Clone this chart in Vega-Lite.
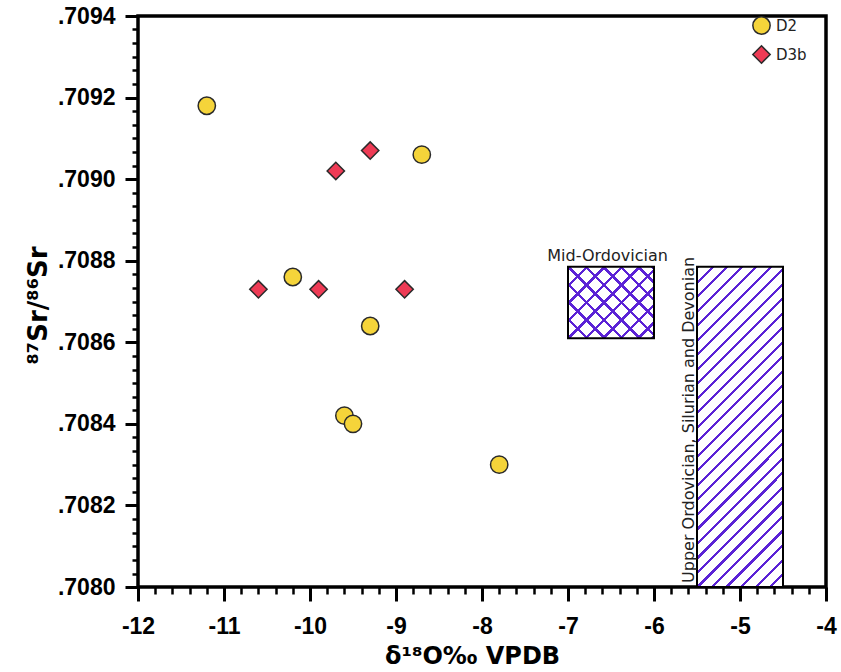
{
  "$schema": "https://vega.github.io/schema/vega-lite/v6.json",
  "width": 688,
  "height": 571,
  "autosize": "none",
  "padding": {"left": 138, "top": 16, "right": 15, "bottom": 85},
  "background": "white",
  "config": {
    "view": {"stroke": "black", "strokeWidth": 3.5},
    "axis": {
      "domain": false, "grid": false, "labelFlush": false, "labelOverlap": false,
      "tickColor": "black", "labelColor": "black", "titleColor": "black",
      "labelFont": "Liberation Sans", "labelFontWeight": "bold", "labelFontSize": 23,
      "titleFont": "DejaVu Sans", "titleFontWeight": "bold", "titleFontSize": 24
    }
  },
  "layer": [
    {
      "data": {"values": [{"period": "Upper Ordovician, Silurian and Devonian", "x_start": -5.5, "x_end": -4.5, "sr_low": 0.708, "sr_high": 0.708785}]},
      "mark": {
        "type": "rect", "stroke": "black", "strokeWidth": 2,
        "fill": {
          "gradient": "linear", "x1": 0, "y1": 0, "x2": 0.318, "y2": 1.1833,
          "stops": [
            {"offset": 0, "color": "#5b22d6"}, {"offset": 0.0075, "color": "#5b22d6"}, {"offset": 0.0075, "color": "#ffffff"}, {"offset": 0.0357, "color": "#ffffff"},
            {"offset": 0.0357, "color": "#5b22d6"}, {"offset": 0.0432, "color": "#5b22d6"}, {"offset": 0.0432, "color": "#ffffff"}, {"offset": 0.0714, "color": "#ffffff"},
            {"offset": 0.0714, "color": "#5b22d6"}, {"offset": 0.0789, "color": "#5b22d6"}, {"offset": 0.0789, "color": "#ffffff"}, {"offset": 0.1071, "color": "#ffffff"},
            {"offset": 0.1071, "color": "#5b22d6"}, {"offset": 0.1146, "color": "#5b22d6"}, {"offset": 0.1146, "color": "#ffffff"}, {"offset": 0.1429, "color": "#ffffff"},
            {"offset": 0.1429, "color": "#5b22d6"}, {"offset": 0.1504, "color": "#5b22d6"}, {"offset": 0.1504, "color": "#ffffff"}, {"offset": 0.1786, "color": "#ffffff"},
            {"offset": 0.1786, "color": "#5b22d6"}, {"offset": 0.1861, "color": "#5b22d6"}, {"offset": 0.1861, "color": "#ffffff"}, {"offset": 0.2143, "color": "#ffffff"},
            {"offset": 0.2143, "color": "#5b22d6"}, {"offset": 0.2218, "color": "#5b22d6"}, {"offset": 0.2218, "color": "#ffffff"}, {"offset": 0.25, "color": "#ffffff"},
            {"offset": 0.25, "color": "#5b22d6"}, {"offset": 0.2575, "color": "#5b22d6"}, {"offset": 0.2575, "color": "#ffffff"}, {"offset": 0.2857, "color": "#ffffff"},
            {"offset": 0.2857, "color": "#5b22d6"}, {"offset": 0.2932, "color": "#5b22d6"}, {"offset": 0.2932, "color": "#ffffff"}, {"offset": 0.3214, "color": "#ffffff"},
            {"offset": 0.3214, "color": "#5b22d6"}, {"offset": 0.3289, "color": "#5b22d6"}, {"offset": 0.3289, "color": "#ffffff"}, {"offset": 0.3571, "color": "#ffffff"},
            {"offset": 0.3571, "color": "#5b22d6"}, {"offset": 0.3646, "color": "#5b22d6"}, {"offset": 0.3646, "color": "#ffffff"}, {"offset": 0.3929, "color": "#ffffff"},
            {"offset": 0.3929, "color": "#5b22d6"}, {"offset": 0.4004, "color": "#5b22d6"}, {"offset": 0.4004, "color": "#ffffff"}, {"offset": 0.4286, "color": "#ffffff"},
            {"offset": 0.4286, "color": "#5b22d6"}, {"offset": 0.4361, "color": "#5b22d6"}, {"offset": 0.4361, "color": "#ffffff"}, {"offset": 0.4643, "color": "#ffffff"},
            {"offset": 0.4643, "color": "#5b22d6"}, {"offset": 0.4718, "color": "#5b22d6"}, {"offset": 0.4718, "color": "#ffffff"}, {"offset": 0.5, "color": "#ffffff"},
            {"offset": 0.5, "color": "#5b22d6"}, {"offset": 0.5075, "color": "#5b22d6"}, {"offset": 0.5075, "color": "#ffffff"}, {"offset": 0.5357, "color": "#ffffff"},
            {"offset": 0.5357, "color": "#5b22d6"}, {"offset": 0.5432, "color": "#5b22d6"}, {"offset": 0.5432, "color": "#ffffff"}, {"offset": 0.5714, "color": "#ffffff"},
            {"offset": 0.5714, "color": "#5b22d6"}, {"offset": 0.5789, "color": "#5b22d6"}, {"offset": 0.5789, "color": "#ffffff"}, {"offset": 0.6071, "color": "#ffffff"},
            {"offset": 0.6071, "color": "#5b22d6"}, {"offset": 0.6146, "color": "#5b22d6"}, {"offset": 0.6146, "color": "#ffffff"}, {"offset": 0.6429, "color": "#ffffff"},
            {"offset": 0.6429, "color": "#5b22d6"}, {"offset": 0.6504, "color": "#5b22d6"}, {"offset": 0.6504, "color": "#ffffff"}, {"offset": 0.6786, "color": "#ffffff"},
            {"offset": 0.6786, "color": "#5b22d6"}, {"offset": 0.6861, "color": "#5b22d6"}, {"offset": 0.6861, "color": "#ffffff"}, {"offset": 0.7143, "color": "#ffffff"},
            {"offset": 0.7143, "color": "#5b22d6"}, {"offset": 0.7218, "color": "#5b22d6"}, {"offset": 0.7218, "color": "#ffffff"}, {"offset": 0.75, "color": "#ffffff"},
            {"offset": 0.75, "color": "#5b22d6"}, {"offset": 0.7575, "color": "#5b22d6"}, {"offset": 0.7575, "color": "#ffffff"}, {"offset": 0.7857, "color": "#ffffff"},
            {"offset": 0.7857, "color": "#5b22d6"}, {"offset": 0.7932, "color": "#5b22d6"}, {"offset": 0.7932, "color": "#ffffff"}, {"offset": 0.8214, "color": "#ffffff"},
            {"offset": 0.8214, "color": "#5b22d6"}, {"offset": 0.8289, "color": "#5b22d6"}, {"offset": 0.8289, "color": "#ffffff"}, {"offset": 0.8571, "color": "#ffffff"},
            {"offset": 0.8571, "color": "#5b22d6"}, {"offset": 0.8646, "color": "#5b22d6"}, {"offset": 0.8646, "color": "#ffffff"}, {"offset": 0.8929, "color": "#ffffff"},
            {"offset": 0.8929, "color": "#5b22d6"}, {"offset": 0.9004, "color": "#5b22d6"}, {"offset": 0.9004, "color": "#ffffff"}, {"offset": 0.9286, "color": "#ffffff"},
            {"offset": 0.9286, "color": "#5b22d6"}, {"offset": 0.9361, "color": "#5b22d6"}, {"offset": 0.9361, "color": "#ffffff"}, {"offset": 0.9643, "color": "#ffffff"},
            {"offset": 0.9643, "color": "#5b22d6"}, {"offset": 0.9718, "color": "#5b22d6"}, {"offset": 0.9718, "color": "#ffffff"}, {"offset": 1, "color": "#ffffff"}
          ]
        }
      },
      "encoding": {
        "x": {"field": "x_start", "type": "quantitative", "scale": {"domain": [-12, -4], "nice": false},
          "axis": {"orient": "bottom", "title": null, "labels": false, "tickSize": 7, "tickWidth": 2.5,
            "values": [-11.8, -11.6, -11.4, -11.2, -10.8, -10.6, -10.4, -10.2, -9.8, -9.6, -9.4, -9.2, -8.8, -8.6, -8.4, -8.2, -7.8, -7.6, -7.4, -7.2, -6.8, -6.6, -6.4, -6.2, -5.8, -5.6, -5.4, -5.2, -4.8, -4.6, -4.4, -4.2]}},
        "x2": {"field": "x_end"},
        "y": {"field": "sr_low", "type": "quantitative", "scale": {"domain": [0.708, 0.7094], "nice": false, "zero": false},
          "axis": {"orient": "left", "title": null, "labels": false, "tickSize": 6, "tickWidth": 2.5,
            "values": [0.708033, 0.708067, 0.7081, 0.708133, 0.708167, 0.708233, 0.708267, 0.7083, 0.708333, 0.708367, 0.708433, 0.708467, 0.7085, 0.708533, 0.708567, 0.708633, 0.708667, 0.7087, 0.708733, 0.708767, 0.708833, 0.708867, 0.7089, 0.708933, 0.708967, 0.709033, 0.709067, 0.7091, 0.709133, 0.709167, 0.709233, 0.709267, 0.7093, 0.709333, 0.709367]}},
        "y2": {"field": "sr_high"}
      }
    },
    {
      "data": {"values": [{"period": "Mid-Ordovician", "x_start": -7, "x_end": -6, "sr_low": 0.70861, "sr_high": 0.708785}]},
      "mark": {
        "type": "rect", "strokeWidth": 0,
        "fill": {
          "gradient": "linear", "x1": 0, "y1": 0, "x2": 1.0834, "y2": 0.8995,
          "stops": [
            {"offset": 0, "color": "#5b22d6"}, {"offset": 0.022, "color": "#5b22d6"}, {"offset": 0.022, "color": "#ffffff"}, {"offset": 0.1111, "color": "#ffffff"},
            {"offset": 0.1111, "color": "#5b22d6"}, {"offset": 0.1331, "color": "#5b22d6"}, {"offset": 0.1331, "color": "#ffffff"}, {"offset": 0.2222, "color": "#ffffff"},
            {"offset": 0.2222, "color": "#5b22d6"}, {"offset": 0.2442, "color": "#5b22d6"}, {"offset": 0.2442, "color": "#ffffff"}, {"offset": 0.3333, "color": "#ffffff"},
            {"offset": 0.3333, "color": "#5b22d6"}, {"offset": 0.3553, "color": "#5b22d6"}, {"offset": 0.3553, "color": "#ffffff"}, {"offset": 0.4444, "color": "#ffffff"},
            {"offset": 0.4444, "color": "#5b22d6"}, {"offset": 0.4664, "color": "#5b22d6"}, {"offset": 0.4664, "color": "#ffffff"}, {"offset": 0.5556, "color": "#ffffff"},
            {"offset": 0.5556, "color": "#5b22d6"}, {"offset": 0.5776, "color": "#5b22d6"}, {"offset": 0.5776, "color": "#ffffff"}, {"offset": 0.6667, "color": "#ffffff"},
            {"offset": 0.6667, "color": "#5b22d6"}, {"offset": 0.6887, "color": "#5b22d6"}, {"offset": 0.6887, "color": "#ffffff"}, {"offset": 0.7778, "color": "#ffffff"},
            {"offset": 0.7778, "color": "#5b22d6"}, {"offset": 0.7998, "color": "#5b22d6"}, {"offset": 0.7998, "color": "#ffffff"}, {"offset": 0.8889, "color": "#ffffff"},
            {"offset": 0.8889, "color": "#5b22d6"}, {"offset": 0.9109, "color": "#5b22d6"}, {"offset": 0.9109, "color": "#ffffff"}, {"offset": 0.978, "color": "#ffffff"},
            {"offset": 0.978, "color": "#5b22d6"}, {"offset": 1, "color": "#5b22d6"}
          ]
        }
      },
      "encoding": {
        "x": {"field": "x_start", "type": "quantitative", "scale": {"domain": [-12, -4], "nice": false}, "axis": null},
        "x2": {"field": "x_end"},
        "y": {"field": "sr_low", "type": "quantitative", "scale": {"domain": [0.708, 0.7094], "nice": false, "zero": false}, "axis": null},
        "y2": {"field": "sr_high"}
      }
    },
    {
      "data": {"values": [{"period": "Mid-Ordovician", "x_start": -7, "x_end": -6, "sr_low": 0.70861, "sr_high": 0.708785}]},
      "mark": {
        "type": "rect", "stroke": "black", "strokeWidth": 2,
        "fill": {
          "gradient": "linear", "x1": 0, "y1": 1, "x2": 1.0834, "y2": 0.1005,
          "stops": [
            {"offset": 0, "color": "#5b22d6"}, {"offset": 0.022, "color": "#5b22d6"}, {"offset": 0.022, "color": "rgba(255,255,255,0)"}, {"offset": 0.1111, "color": "rgba(255,255,255,0)"},
            {"offset": 0.1111, "color": "#5b22d6"}, {"offset": 0.1331, "color": "#5b22d6"}, {"offset": 0.1331, "color": "rgba(255,255,255,0)"}, {"offset": 0.2222, "color": "rgba(255,255,255,0)"},
            {"offset": 0.2222, "color": "#5b22d6"}, {"offset": 0.2442, "color": "#5b22d6"}, {"offset": 0.2442, "color": "rgba(255,255,255,0)"}, {"offset": 0.3333, "color": "rgba(255,255,255,0)"},
            {"offset": 0.3333, "color": "#5b22d6"}, {"offset": 0.3553, "color": "#5b22d6"}, {"offset": 0.3553, "color": "rgba(255,255,255,0)"}, {"offset": 0.4444, "color": "rgba(255,255,255,0)"},
            {"offset": 0.4444, "color": "#5b22d6"}, {"offset": 0.4664, "color": "#5b22d6"}, {"offset": 0.4664, "color": "rgba(255,255,255,0)"}, {"offset": 0.5556, "color": "rgba(255,255,255,0)"},
            {"offset": 0.5556, "color": "#5b22d6"}, {"offset": 0.5776, "color": "#5b22d6"}, {"offset": 0.5776, "color": "rgba(255,255,255,0)"}, {"offset": 0.6667, "color": "rgba(255,255,255,0)"},
            {"offset": 0.6667, "color": "#5b22d6"}, {"offset": 0.6887, "color": "#5b22d6"}, {"offset": 0.6887, "color": "rgba(255,255,255,0)"}, {"offset": 0.7778, "color": "rgba(255,255,255,0)"},
            {"offset": 0.7778, "color": "#5b22d6"}, {"offset": 0.7998, "color": "#5b22d6"}, {"offset": 0.7998, "color": "rgba(255,255,255,0)"}, {"offset": 0.8889, "color": "rgba(255,255,255,0)"},
            {"offset": 0.8889, "color": "#5b22d6"}, {"offset": 0.9109, "color": "#5b22d6"}, {"offset": 0.9109, "color": "rgba(255,255,255,0)"}, {"offset": 0.978, "color": "rgba(255,255,255,0)"},
            {"offset": 0.978, "color": "#5b22d6"}, {"offset": 1, "color": "#5b22d6"}
          ]
        }
      },
      "encoding": {
        "x": {"field": "x_start", "type": "quantitative", "scale": {"domain": [-12, -4], "nice": false}, "axis": null},
        "x2": {"field": "x_end"},
        "y": {"field": "sr_low", "type": "quantitative", "scale": {"domain": [0.708, 0.7094], "nice": false, "zero": false}, "axis": null},
        "y2": {"field": "sr_high"}
      }
    },
    {
      "data": {"values": [{"label": "Mid-Ordovician", "x": -6.54, "y": 0.7088}]},
      "mark": {"type": "text", "font": "DejaVu Sans", "fontSize": 16, "color": "#222222", "align": "center", "baseline": "alphabetic"},
      "encoding": {
        "x": {"field": "x", "type": "quantitative", "scale": {"domain": [-12, -4], "nice": false}, "axis": null},
        "y": {"field": "y", "type": "quantitative", "scale": {"domain": [0.708, 0.7094], "nice": false, "zero": false}, "axis": null},
        "text": {"field": "label"}
      }
    },
    {
      "data": {"values": [{"label": "Upper Ordovician, Silurian and Devonian", "x": -5.535, "y": 0.70801}]},
      "mark": {"type": "text", "font": "DejaVu Sans", "fontSize": 16, "color": "#222222", "align": "left", "baseline": "alphabetic", "angle": 270},
      "encoding": {
        "x": {"field": "x", "type": "quantitative", "scale": {"domain": [-12, -4], "nice": false}, "axis": null},
        "y": {"field": "y", "type": "quantitative", "scale": {"domain": [0.708, 0.7094], "nice": false, "zero": false}, "axis": null},
        "text": {"field": "label"}
      }
    },
    {
      "data": {"values": [
        {"series": "D2", "d18O": -11.2, "sr": 0.70918},
        {"series": "D2", "d18O": -8.7, "sr": 0.70906},
        {"series": "D2", "d18O": -10.2, "sr": 0.70876},
        {"series": "D2", "d18O": -9.3, "sr": 0.70864},
        {"series": "D2", "d18O": -9.6, "sr": 0.70842},
        {"series": "D2", "d18O": -9.5, "sr": 0.7084},
        {"series": "D2", "d18O": -7.8, "sr": 0.7083},
        {"series": "D3b", "d18O": -9.7, "sr": 0.70902},
        {"series": "D3b", "d18O": -9.3, "sr": 0.70907},
        {"series": "D3b", "d18O": -10.6, "sr": 0.70873},
        {"series": "D3b", "d18O": -9.9, "sr": 0.70873},
        {"series": "D3b", "d18O": -8.9, "sr": 0.70873}
      ]},
      "mark": {"type": "point", "filled": true, "opacity": 1, "size": 300, "stroke": "#2a2a2a", "strokeWidth": 1.5},
      "encoding": {
        "x": {"field": "d18O", "type": "quantitative", "scale": {"domain": [-12, -4], "nice": false},
          "axis": {"orient": "bottom", "values": [-12, -11, -10, -9, -8, -7, -6, -5, -4], "labelExpr": "datum.value + ''", "tickSize": 14, "tickWidth": 3, "labelPadding": 14,
            "title": "δ¹⁸O‰ VPDB", "titleX": 334, "titleY": 76, "titleBaseline": "alphabetic", "titleAlign": "center"}},
        "y": {"field": "sr", "type": "quantitative", "scale": {"domain": [0.708, 0.7094], "nice": false, "zero": false},
          "axis": {"orient": "left", "values": [0.708, 0.7082, 0.7084, 0.7086, 0.7088, 0.709, 0.7092, 0.7094], "labelExpr": "substring(format(datum.value, '.4f'), 1)", "tickSize": 13, "tickWidth": 3, "labelPadding": 10,
            "title": "⁸⁷Sr/⁸⁶Sr", "titleFontSize": 26, "titleX": -92, "titleY": 289, "titleAngle": 270, "titleAlign": "center", "titleBaseline": "alphabetic"}},
        "color": {"field": "series", "type": "nominal", "scale": {"domain": ["D2", "D3b"], "range": ["#f5d43a", "#ee3b55"]},
          "legend": {"title": null, "orient": "none", "legendX": 614, "legendY": 0, "labelFont": "DejaVu Sans", "labelFontSize": 15, "labelColor": "#222222", "symbolSize": 300, "symbolStrokeColor": "#2a2a2a", "symbolStrokeWidth": 1.5, "rowPadding": 4, "labelOffset": 5}},
        "shape": {"field": "series", "type": "nominal", "scale": {"domain": ["D2", "D3b"], "range": ["circle", "diamond"]},
          "legend": {"title": null, "orient": "none", "legendX": 614, "legendY": 0, "labelFont": "DejaVu Sans", "labelFontSize": 15, "labelColor": "#222222", "symbolSize": 300, "symbolStrokeColor": "#2a2a2a", "symbolStrokeWidth": 1.5, "rowPadding": 4, "labelOffset": 5}}
      }
    }
  ],
  "resolve": {"axis": {"x": "independent", "y": "independent"}}
}
